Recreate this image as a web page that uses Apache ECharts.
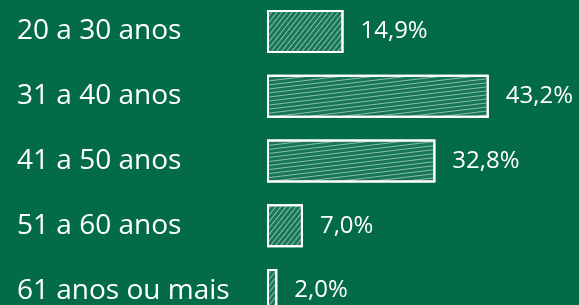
<!DOCTYPE html>
<html>
<head>
<meta charset="utf-8">
<script src="https://cdn.jsdelivr.net/npm/echarts@6/dist/echarts.min.js"></script>
<style>
  html, body { margin: 0; padding: 0; background: #036b47; }
  #chart { width: 579px; height: 305px; }
</style>
</head>
<body>
<div id="chart"></div>
<script>
const faixas = ['20 a 30 anos', '31 a 40 anos', '41 a 50 anos', '51 a 60 anos', '61 anos ou mais'];
const percentuais = [14.9, 43.2, 32.8, 7.0, 2.0];

const chart = echarts.init(document.getElementById('chart'), null, { renderer: 'canvas' });

function hatch(value) {
  // hachura mais inclinada nas barras curtas
  return {
    color: 'rgba(255,255,255,0.5)',
    dashArrayX: [1, 0],
    dashArrayY: [1, 3],
    rotation: value > 20 ? -0.12 : -0.9,
  };
}

chart.setOption({
  backgroundColor: '#036b47',
  animation: false,
  grid: { left: 267, top: -1, width: 308, height: 324, outerBoundsMode: 'none' },
  xAxis: {
    type: 'value',
    min: 0,
    max: 60,
    show: false,
  },
  yAxis: {
    type: 'category',
    inverse: true,
    data: faixas,
    axisLine: { show: false },
    axisTick: { show: false },
    splitLine: { show: false },
    axisLabel: {
      align: 'left',
      margin: 250,
      color: '#ffffff',
      fontFamily: 'Open Sans',
      fontSize: 28,
    },
  },
  series: [
    {
      type: 'bar',
      barWidth: 43,
      data: percentuais.map((v) => ({
        value: v,
        itemStyle: { decal: hatch(v) },
      })),
      itemStyle: {
        color: 'rgba(255,255,255,0.08)',
        borderColor: '#ffffff',
        borderWidth: 2,
      },
      label: {
        show: true,
        position: 'right',
        distance: 17,
        color: '#ffffff',
        fontFamily: 'Open Sans',
        fontSize: 24,
        formatter: (p) => p.value.toFixed(1).replace('.', ',') + '%',
      },
    },
  ],
});
</script>
</body>
</html>
